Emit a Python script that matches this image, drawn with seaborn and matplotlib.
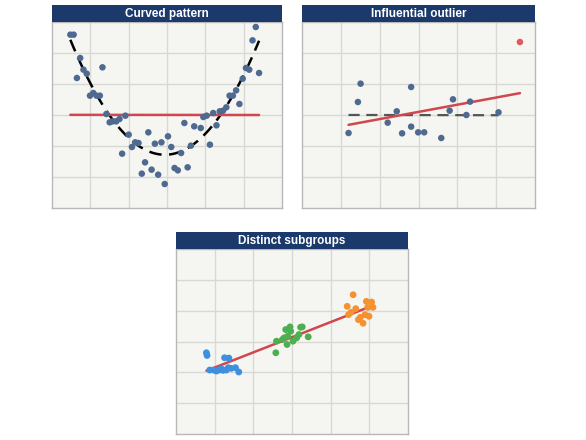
import matplotlib
matplotlib.use("Agg")
import matplotlib.pyplot as plt
import seaborn as sns
import numpy as np
import pandas as pd

# ---- data (in grid units) ----
curve_zx = [60,70,90,100,110,80,158,120,130,140,150,170,180,190,200,210,228,218,238,248,258,268,278,288,298,308,318,328,338,348,358,368,378,388,398,408,418,428,438,458,466,476,486,496,506,516,526,536,546,556,566,576,586,596,606,616,626,636]
curve_zy = [105,105,175,210,222,235,203,288,280,288,288,343,368,365,365,358,348,462,405,442,428,430,522,488,398,510,432,525,428,553,410,442,505,512,460,370,503,438,380,385,352,348,435,340,377,335,333,323,288,288,272,313,237,205,210,122,82,220]
curve_x = [(v - 4) / 117 for v in curve_zx]
curve_y = [(625 - v) / 93 for v in curve_zy]

out_zx = [145,173,181,262,289,305,332,332,353,371,422,447,457,497,508,593]
out_zy = [400,307,252,369,335,401,262,381,398,398,415,333,299,346,306,338]
out_x = [(v - 6) / 116 for v in out_zx]
out_y = [(625 - v) / 93 for v in out_zy]
outlier_x = [(657 - 6) / 116]
outlier_y = [(625 - 127) / 93]

blue_zx = [110,112,132,140,148,155,165,178,176,198,208,120,170,185,160]
blue_zy = [385,393,437,440,437,433,400,401,430,430,443,437,437,432,438]
green_zx = [320,322,340,350,354,356,363,372,383,390,395,400,418,365,345]
green_zy = [385,350,345,315,360,335,307,350,340,330,308,307,337,320,340]
orange_zx = [536,554,548,540,562,570,576,584,590,594,602,610,614,598]
orange_zy = [245,210,263,270,252,285,278,296,270,230,275,232,248,248]
groups = ["A"] * len(blue_zx) + ["B"] * len(green_zx) + ["C"] * len(orange_zx)
sub_x = [(v - 18) / 117 for v in blue_zx + green_zx + orange_zx]
sub_y = [(630 - v) / 93 for v in blue_zy + green_zy + orange_zy]

NAVY = "#1b3a6b"
DOT = "#4f6a91"
RED = "#d0474f"
BG = "#f5f5f1"

sns.set_theme(style="whitegrid")
plt.rcParams['font.family'] = ['Liberation Sans', 'DejaVu Sans']
fig = plt.figure(figsize=(5.86, 4.40), dpi=100)
W, H = 586, 440

def panel(l, r, t, b, title):
    ax = fig.add_axes([l / W, 1 - b / H, (r - l) / W, (b - t) / H])
    hx = fig.add_axes([l / W, 1 - t / H, (r - l) / W, 17 / H])
    hx.set_facecolor(NAVY)
    hx.set_xticks([]); hx.set_yticks([])
    for s in hx.spines.values():
        s.set_visible(False)
    hx.text(0.5, 0.45, title, color="white", fontweight="bold", fontsize=8.5,
            ha="center", va="center", transform=hx.transAxes)
    ax.set_facecolor(BG)
    ax.set_xlim(0, 6); ax.set_ylim(0, 6)
    ax.set_xticks(range(1, 6)); ax.set_yticks(range(1, 6))
    ax.set_xticklabels([]); ax.set_yticklabels([])
    ax.tick_params(length=0)
    ax.grid(color="#d8d8d4", lw=1)
    for s in ax.spines.values():
        s.set_color("#b8b8b8"); s.set_linewidth(1)
    ax.set_xlabel(""); ax.set_ylabel("")
    return ax

ax1 = panel(52, 282, 22, 208, "Curved pattern")
d1 = pd.DataFrame({"x": curve_x, "y": curve_y})
sns.scatterplot(data=d1, x="x", y="y", ax=ax1, color=DOT, s=22, edgecolor="none", zorder=3)
sns.regplot(data=d1, x="x", y="y", ax=ax1, order=2, ci=None, scatter=False,
            line_kws=dict(color="black", lw=1.8, ls=(0, (5, 3))))
sns.regplot(data=d1, x="x", y="y", ax=ax1, ci=None, scatter=False,
            line_kws=dict(color=RED, lw=1.8))
ax1.set_xlabel(""); ax1.set_ylabel("")

ax2 = panel(302, 535, 22, 208, "Influential outlier")
d2 = pd.DataFrame({"x": out_x, "y": out_y})
d2all = pd.DataFrame({"x": out_x + outlier_x, "y": out_y + outlier_y})
sns.regplot(data=d2, x="x", y="y", ax=ax2, ci=None, scatter=False,
            line_kws=dict(color="#555555", lw=1.6, ls=(0, (5, 3))))
sns.regplot(data=d2all, x="x", y="y", ax=ax2, ci=None, scatter=False,
            line_kws=dict(color=RED, lw=1.8))
sns.scatterplot(data=d2, x="x", y="y", ax=ax2, color=DOT, s=22, edgecolor="none", zorder=3)
sns.scatterplot(x=outlier_x, y=outlier_y, ax=ax2, color="#e05a5a", s=22, edgecolor="none", zorder=3)
ax2.set_xlabel(""); ax2.set_ylabel("")

ax3 = panel(176, 408, 249, 434, "Distinct subgroups")
d3 = pd.DataFrame({"x": sub_x, "y": sub_y, "g": groups})
sns.scatterplot(data=d3, x="x", y="y", hue="g", ax=ax3, s=24, edgecolor="none",
                palette={"A": "#3d8fe0", "B": "#4caf50", "C": "#f5922f"}, legend=False, zorder=3)
sns.regplot(data=d3, x="x", y="y", ax=ax3, ci=None, scatter=False, truncate=True,
            line_kws=dict(color=RED, lw=1.8))
ax3.set_xlabel(""); ax3.set_ylabel("")
ax3.set_xlim(0, 6); ax3.set_ylim(0, 6)

fig.savefig("out.png", dpi=100, facecolor="white")
